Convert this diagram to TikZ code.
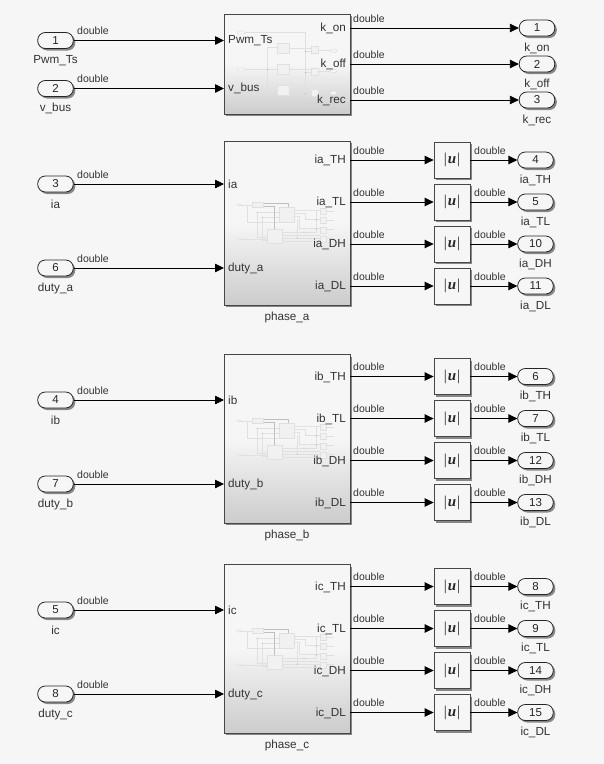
\documentclass[tikz,border=0pt]{standalone}
\usepackage{fontspec}
\setmainfont{Liberation Sans}
\newfontfamily\absfont{Liberation Serif}
\usetikzlibrary{arrows.meta,shadows}
\definecolor{bg}{HTML}{F6F6F6}
\definecolor{wireg}{HTML}{E0E0E0}
\definecolor{boxg}{HTML}{F1F1F1}
\tikzset{
  x=1pt,y=-1pt,
  lbl/.style={font=\fontsize{11.7}{12}\selectfont,text=black!80,inner sep=0pt,yshift=-1.5pt},
  inl/.style={font=\fontsize{11.7}{12}\selectfont,text=black!80,inner sep=0pt,yshift=-0.3pt},
  sig/.style={font=\fontsize{10.5}{11}\selectfont,text=black!80,inner sep=0pt,anchor=base west,yshift=-0.5pt},
  wire/.style={draw=black,line width=0.8pt,-{Triangle[length=9pt,width=8.5pt]}},
  shad/.style={drop shadow={shadow xshift=2pt,shadow yshift=-2pt,opacity=.45,fill=black}},
  port/.style={draw=black!85,line width=0.8pt,fill=bg,rounded corners=7.5pt,minimum width=35.5pt,minimum height=16pt,inner sep=0pt,font=\fontsize{11.5}{12}\selectfont,text=black!85,shad},
  subsys/.style={draw=black!72,line width=1pt,top color=bg,bottom color=black!20,middle color=bg,shad,inner sep=0pt,minimum width=126pt},
  absbox/.style={draw=black!72,line width=0.8pt,fill=bg,minimum width=36pt,minimum height=36pt,inner sep=0pt,font=\fontsize{15}{16}\selectfont,text=black!85,shad},
  mw/.style={draw=wireg,line width=0.5pt},
  md/.style={draw=black!25,line width=0.4pt},
  mb/.style={draw=wireg,fill=boxg,line width=0.5pt},
  mp/.style={draw=wireg,fill=bg,line width=0.5pt,rounded corners=1.5pt}
}
\newcommand{\absu}{{\absfont\textbar\kern1pt\bfseries\itshape u\kern1pt\mdseries\upshape\textbar}}
\begin{document}
\begin{tikzpicture}
\useasboundingbox (0,0) rectangle (604,764);
\fill[bg] (0,0) rectangle (604,764);
% ---- top block
\node[subsys,minimum height=100pt] (S0) at (287,64) {};
\path[mw] (245,32.7) -- (305.7,32.7) -- (305.7,94);
\path[mw] (245,69.3) -- (277,69.3);
\path[mw] (277,47.7) -- (267.7,47.7) -- (267.7,90) -- (277,90);
\path[mw] (289,48) -- (311,48); \path[mw] (289,69.5) -- (311,69.5); \path[mw] (289,90.5) -- (311,90.5);
\path[mw] (305.7,51.7) -- (311,51.7); \path[mw] (305.7,72.7) -- (311,72.7); \path[mw] (305.7,94) -- (311,94);
\path[mw] (318,50.5) -- (330,50.5); \path[mw] (318,71) -- (330,71); \path[mw] (318,93.2) -- (330,93.2);
\foreach \y in {43,64,85}{\path[mb] (277,\y) rectangle (289,\y+10.5);}
\foreach \y in {46.7,67.8,89.4}{\path[mb] (311,\y) rectangle (318,\y+7);}
\foreach \y in {49.2,69.5,91.7}{\path[mp] (330,\y) rectangle (337,\y+3);}
\path[mp] (237,31.2) rectangle (245,34.2);
\path[mp] (237,67.8) rectangle (245,70.8);
\foreach \x/\y in {305.7/51.7,305.7/72.7,305.7/94,267.7/69.3}{\fill[black!40] (\x,\y) circle (0.5);}
\node[inl,anchor=west] at (228,40.5) {Pwm\_Ts};
\node[inl,anchor=west] at (228,88.5) {v\_bus};
\node[inl,anchor=east] at (346,28.5) {k\_on};
\node[inl,anchor=east] at (346,64.5) {k\_off};
\node[inl,anchor=east] at (346,100.5) {k\_rec};
\coordinate (S0i1) at (224,40.5); \coordinate (S0i2) at (224,88.5);
\coordinate (S0o1) at (350,28); \coordinate (S0o2) at (350,64); \coordinate (S0o3) at (350,100);
\node[port] (I1) at (55.5,40.5) {1};
\node[lbl] at (55.5,59) {Pwm\_Ts};
\node[port] (I2) at (55.5,88.5) {2};
\node[lbl] at (55.5,107) {v\_bus};
\draw[wire] (I1) -- (S0i1);
\draw[wire] (I2) -- (S0i2);
\node[sig] at (77,34) {double};
\node[sig] at (77,82) {double};
\foreach \n/\y/\t in {1/28/k\_on,2/64/k\_off,3/100/k\_rec}{
  \node[port] (T\n) at (537,\y) {\n};
  \node[lbl] at (537,\y+19) {\t};
  \draw[wire] (S0o\n) -- (T\n);
  \node[sig] at (353,\y-6.5) {double};
}
% ---- phases
\foreach \ph/\s/\dy/\cy/\bh/\ly/\oo/\inA/\inB/\oA/\oB/\oC/\oD in {
  a/ia/0/223/164/316/0/3/6/4/5/10/11,
  b/ib/216/222.75/168.5/318/0.5/4/7/6/7/12/13,
  c/ic/426/222.75/168.5/318/0.5/5/8/8/9/14/15}{
 \begin{scope}[shift={(0,\dy)}]
  \node[subsys,minimum height=\bh pt] (S\ph) at (287,\cy) {};
  \node[lbl] (S\ph name) at (287,\ly) {phase\_\ph};
  % thumbnail of the inner model
  \path[mw] (241,205) -- (252,205);
  \path[mw] (247,205) -- (247,222) -- (279,222);
  \path[mw] (279,212) -- (257,212) -- (257,237) -- (267,237);
  \path[mw] (279,217) -- (262,217) -- (262,240) -- (267,240);
  \path[mw] (241,239) -- (267,239);
  \path[md] (263,203) -- (288,203) -- (288,207);
  \path[md] (263,206) -- (274,206) -- (274,229);
  \path[mw] (294,210) -- (320,210);
  \path[mw] (294,213) -- (305,213) -- (305,219.5) -- (320,219.5);
  \path[mw] (299,216) -- (299,228) -- (320,228);
  \path[mw] (294,216) -- (299,216);
  \path[mw] (297,219) -- (297,238) ;
  \path[mw] (282,232) -- (316,232) -- (316,210);
  \path[mw] (282,235) -- (320,235);
  \path[mw] (282,238) -- (320,238);
  \path[mw] (282,241) -- (320,241);
  \path[mw] (327,211) -- (334,211); \path[mw] (327,220) -- (334,220);
  \path[mw] (327,229) -- (334,229); \path[mw] (327,238.5) -- (334,238.5);
  \path[mb] (252.5,202) rectangle (263,207);
  \path[mb] (279,207) rectangle (294,222);
  \path[mb] (267,229) rectangle (282,243);
  \foreach \yy in {208,217,227,236}{\path[mb] (320.5,\yy) rectangle (326.5,\yy+6);}
  \path[mp] (237,204) rectangle (241,206);
  \path[mp] (237,238) rectangle (241,240);
  \foreach \xx/\yy in {257/212,262/217,316/220,316/229,304/232,297/238}{\fill[black!40] (\xx,\yy) circle (0.5);}
  % port labels of the block
  \node[inl,anchor=west] at (228,184.5) {\s};
  \node[inl,anchor=west] at (228,268.5) {duty\_\ph};
  \coordinate (S\ph i1) at (224,184); \coordinate (S\ph i2) at (224,268);
  % inports
  \node[port] (I\ph1) at (55.5,184) {\inA};
  \node[lbl] at (55.5,203) {\s};
  \node[port] (I\ph2) at (55.5,268) {\inB};
  \node[lbl] at (55.5,287) {duty\_\ph};
  \draw[wire] (I\ph1) -- (S\ph i1);
  \draw[wire] (I\ph2) -- (S\ph i2);
  \node[sig] at (77,177.5) {double};
  \node[sig] at (77,261.5) {double};
  % outputs
  \foreach \k/\base/\sfx/\num in {1/160/TH/\oA,2/202/TL/\oB,3/244/DH/\oC,4/286/DL/\oD}{
    \pgfmathsetmacro{\yo}{\base+\oo}
    \node[inl,anchor=east] at (346,\yo+0.5) {\s\_\sfx};
    \coordinate (S\ph o\k) at (350,\yo);
    \node[absbox] (A\ph\k) at (452,\yo) {\absu};
    \node[port] (O\ph\k) at (535.5,\yo) {\num};
    \node[lbl] at (535.5,\yo+18.5) {\s\_\sfx};
    \draw[wire] (S\ph o\k) -- (A\ph\k);
    \draw[wire] (A\ph\k) -- (O\ph\k);
    \node[sig] at (353,\yo-6.5) {double};
    \node[sig] at (474,\yo-6.5) {double};
  }
 \end{scope}
}
\end{tikzpicture}
\end{document}
